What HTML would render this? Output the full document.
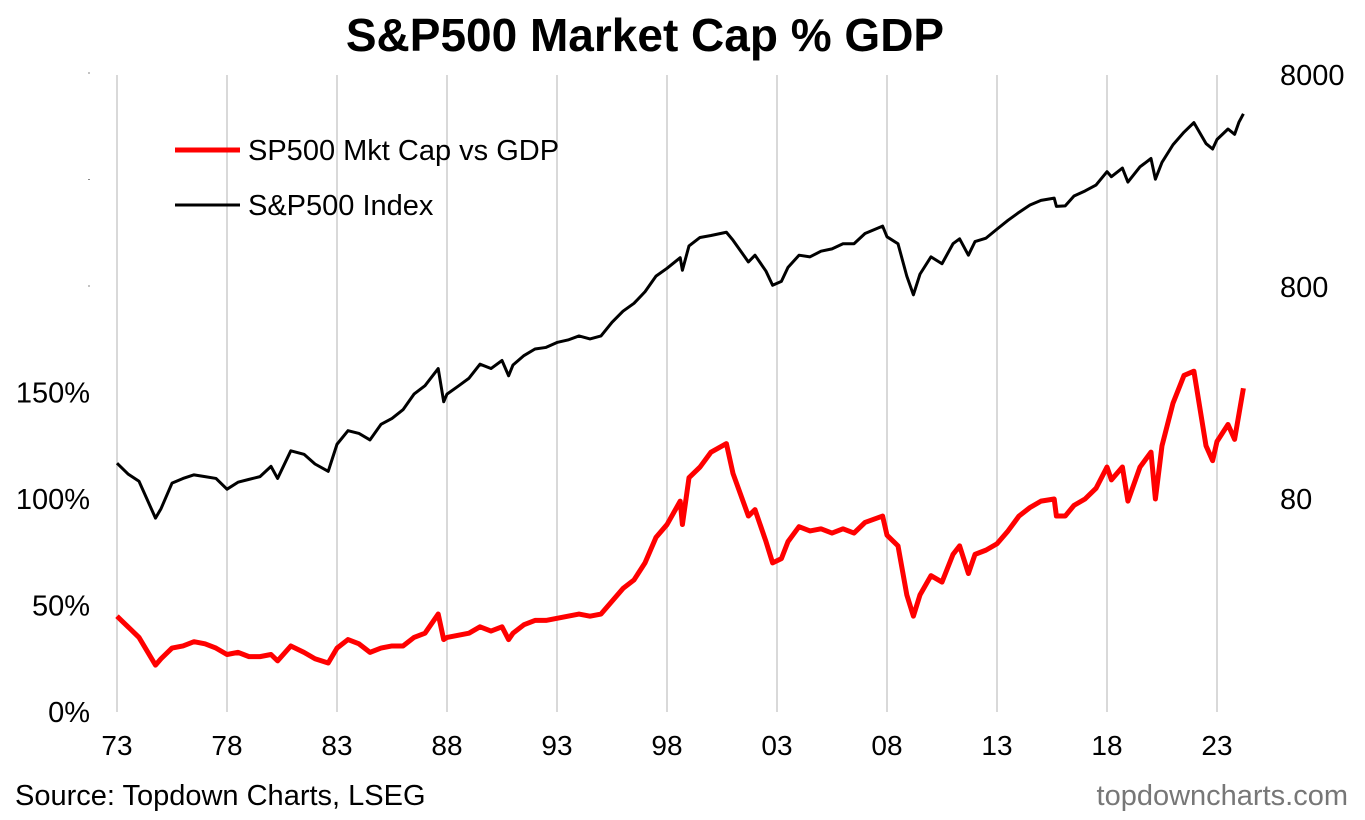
<!DOCTYPE html>
<html><head><meta charset="utf-8"><style>
body{margin:0;background:#fff;font-family:"Liberation Sans",sans-serif}
svg text{font-family:"Liberation Sans",sans-serif}
</style></head><body>
<svg id="c" width="1365" height="815">
<text x="645" y="51" text-anchor="middle" font-size="46" font-weight="bold">S&amp;P500 Market Cap % GDP</text>
<g id="grid"></g><g id="axes"></g><g id="lines"></g>
<g>
<line x1="175" y1="150" x2="240" y2="150" stroke="#f00" stroke-width="5"/>
<text x="248" y="160" font-size="29">SP500 Mkt Cap vs GDP</text>
<line x1="175" y1="205" x2="240" y2="205" stroke="#000" stroke-width="3"/>
<text x="248" y="215" font-size="29">S&amp;P500 Index</text>
</g>
<text x="15" y="805" font-size="29">Source: Topdown Charts, LSEG</text>
<text x="1348" y="805" font-size="29" text-anchor="end" fill="#777">topdowncharts.com</text>
</svg>
<script>
const years=[1973,1973.5,1974,1974.75,1975,1975.5,1976,1976.5,1977,1977.5,1978,1978.5,1979,1979.5,1980,1980.3,1980.9,1981.5,1982,1982.6,1983,1983.5,1984,1984.5,1985,1985.5,1986,1986.5,1987,1987.6,1987.85,1988,1988.5,1989,1989.5,1990,1990.5,1990.8,1991,1991.5,1992,1992.5,1993,1993.5,1994,1994.5,1995,1995.5,1996,1996.5,1997,1997.5,1998,1998.6,1998.7,1999,1999.5,2000,2000.7,2001,2001.7,2002,2002.5,2002.8,2003.2,2003.5,2004,2004.5,2005,2005.5,2006,2006.5,2007,2007.8,2008,2008.5,2008.9,2009.2,2009.5,2010,2010.5,2011,2011.3,2011.7,2012,2012.5,2013,2013.5,2014,2014.5,2015,2015.6,2015.7,2016.1,2016.5,2017,2017.5,2018,2018.2,2018.7,2018.95,2019.5,2020,2020.2,2020.5,2021,2021.5,2021.95,2022.5,2022.8,2023,2023.5,2023.8,2024,2024.2];
const spx=[118,105,97,65,72,95,100,104,102,100,89,96,99,102,114,100,135,130,117,108,145,168,163,152,180,192,211,250,274,330,230,250,272,297,346,330,360,305,343,380,408,415,438,450,470,455,470,545,615,670,760,900,980,1100,960,1250,1370,1400,1450,1330,1050,1130,950,815,850,990,1130,1110,1180,1210,1280,1280,1430,1550,1380,1280,900,735,920,1110,1030,1280,1350,1130,1310,1360,1500,1650,1800,1950,2050,2100,1920,1930,2150,2270,2420,2800,2650,2910,2500,2950,3230,2580,3100,3750,4300,4770,3800,3580,3970,4450,4200,4800,5250];
const mcap=[45,40,35,22,25,30,31,33,32,30,27,28,26,26,27,24,31,28,25,23,30,34,32,28,30,31,31,35,37,46,34,35,36,37,40,38,40,34,37,41,43,43,44,45,46,45,46,52,58,62,70,82,88,99,88,110,115,122,126,112,92,95,80,70,72,80,87,85,86,84,86,84,89,92,83,78,55,45,55,64,61,74,78,65,74,76,79,85,92,96,99,100,92,92,97,100,105,115,109,115,99,115,122,100,125,145,158,160,125,118,127,135,128,140,152];
const xTicks=[1973,1978,1983,1988,1993,1998,2003,2008,2013,2018,2023];
const leftTicks=[0,50,100,150];
const rightTicks=[80,800,8000];
const X=y=>117+(y-1973)*22;
const YL=v=>712-v*2.13;
const YR=v=>499-212*Math.log10(v/80);
const NS="http://www.w3.org/2000/svg";
function mk(p,t,a){const e=document.createElementNS(NS,t);for(const k in a)e.setAttribute(k,a[k]);p.appendChild(e);return e;}
const grid=document.getElementById('grid'),axes=document.getElementById('axes'),lines=document.getElementById('lines');
xTicks.forEach(t=>{
 const g=mk(grid,'line',{x1:X(t),x2:X(t),y1:75,y2:712,stroke:'#d9d9d9','stroke-width':2});
 
 
 const l=mk(axes,'text',{x:X(t),y:755,'font-size':28,'text-anchor':'middle'});
 l.textContent=String(t).slice(2);
 
 
});
leftTicks.forEach(t=>{
 const l=mk(axes,'text',{x:90,y:YL(t)+10,'font-size':29,'text-anchor':'end'});
 l.textContent=t+'%';
 
 
});
[200,250,300].forEach(t=>{
 const m=mk(axes,'line',{x1:88,x2:90,y1:YL(t),y2:YL(t),stroke:'#888'});
 
 
});
rightTicks.forEach(t=>{
 const l=mk(axes,'text',{x:1280,y:YR(t)+10,'font-size':29});
 l.textContent=t;
 
 
});
const pm=mk(lines,'polyline',{points:years.map((y,i)=>X(y)+','+YL(mcap[i])).join(' '),fill:'none',stroke:'#f00','stroke-width':5,'stroke-linejoin':'round'});


const ps=mk(lines,'polyline',{points:years.map((y,i)=>X(y)+','+YR(spx[i])).join(' '),fill:'none',stroke:'#000','stroke-width':3,'stroke-linejoin':'round'});


</script>
</body></html>
